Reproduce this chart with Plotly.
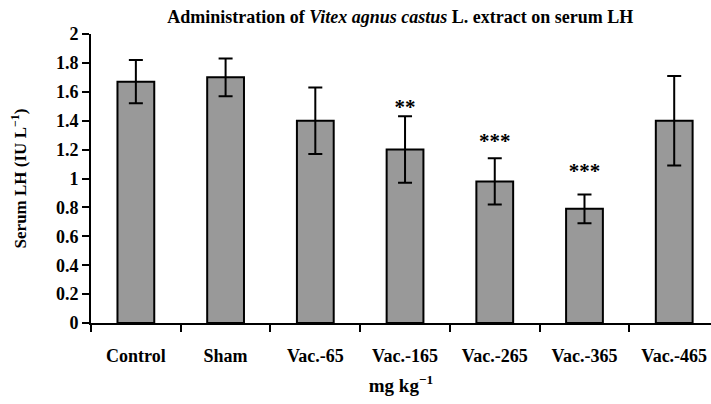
import plotly.graph_objects as go

categories = ["Control", "Sham", "Vac.-65", "Vac.-165", "Vac.-265", "Vac.-365", "Vac.-465"]
lh_means = [1.67, 1.70, 1.40, 1.20, 0.98, 0.79, 1.40]
lh_errors = [0.15, 0.13, 0.23, 0.23, 0.16, 0.10, 0.31]
sig_labels = ["", "", "", "**", "***", "***", ""]
sig_y = [None, None, None, 1.48, 1.25, 1.04, None]
y_ticks = [0, 0.2, 0.4, 0.6, 0.8, 1, 1.2, 1.4, 1.6, 1.8, 2]

font_family = "Liberation Serif, Times New Roman, serif"

fig = go.Figure()
fig.add_trace(go.Bar(
    x=categories, y=lh_means,
    marker=dict(color="#999999", line=dict(color="black", width=2)),
    error_y=dict(type="data", array=lh_errors, visible=True, color="black", thickness=2, width=7),
    width=0.41,
    showlegend=False,
))
sx = [c for c, s in zip(categories, sig_labels) if s]
sy = [v for v, s in zip(sig_y, sig_labels) if s]
st = [f"<b>{s}</b>" for s in sig_labels if s]
fig.add_trace(go.Scatter(
    x=sx, y=sy, text=st, mode="text", textposition="middle center",
    textfont=dict(family=font_family, size=21, color="black"),
    showlegend=False, hoverinfo="skip",
))

fig.update_layout(
    width=711, height=404,
    margin=dict(l=91, r=0, t=33.5, b=80.5),
    paper_bgcolor="white", plot_bgcolor="white",
    font=dict(family=font_family, size=14, color="black"),
    title=dict(
        text="<b>Administration of <i>Vitex agnus castus</i> L. extract on serum LH</b>",
        x=0.563, xanchor="center", y=0.958, yanchor="middle",
        font=dict(family=font_family, size=18, color="black"),
    ),
)
fig.update_xaxes(
    range=[-0.5, 6.41], automargin=False,
    showline=True, linecolor="black", linewidth=2,
    ticks="outside", tickson="boundaries", ticklen=7, tickwidth=2, tickcolor="black",
    ticklabelstandoff=15,
    tickvals=categories, ticktext=[f"<b>{c}</b>" for c in categories],
    tickfont=dict(family=font_family, size=18, color="black"),
    title=dict(text="<b>mg kg<sup>\u22121</sup></b>", standoff=14,
               font=dict(family=font_family, size=19, color="black")),
    showgrid=False, zeroline=False,
)
fig.update_yaxes(
    range=[0, 2], automargin=False,
    tickvals=y_ticks, ticktext=[f"<b>{t:g}</b>" for t in y_ticks],
    showline=True, linecolor="black", linewidth=2,
    ticks="outside", ticklen=7, tickwidth=2, tickcolor="black",
    tickfont=dict(family=font_family, size=18, color="black"),
    title=dict(text="<b>Serum LH (IU L<sup>\u22121</sup>)</b>", standoff=25,
               font=dict(family=font_family, size=17, color="black")),
    showgrid=False, zeroline=False,
)

fig.write_html(
    "out.html",
    config={"displayModeBar": False},
    post_script="document.body.style.margin='0px';document.body.style.overflow='hidden';",
)
